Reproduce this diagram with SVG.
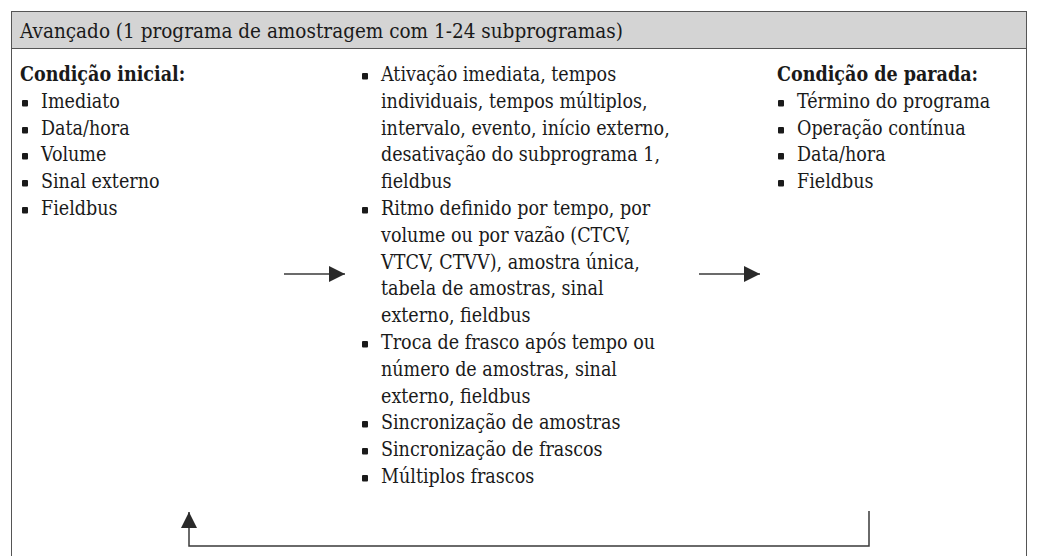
<svg xmlns="http://www.w3.org/2000/svg" width="1038" height="556" viewBox="0 0 1038 556">
<style>
text{font-family:"DejaVu Serif Condensed","DejaVu Serif","Liberation Serif",serif;font-stretch:condensed;font-size:19.5px;fill:#1a1a1a}
.h{font-size:20.5px}
.b{font-weight:bold}
.bl{fill:#1a1a1a}
.ln{stroke:#3a3a3a;stroke-width:1.5;fill:none}
</style>
<defs>
<marker id="ah" viewBox="0 0 16 16" refX="16" refY="8" markerWidth="16" markerHeight="16" markerUnits="userSpaceOnUse" orient="auto"><path d="M0,0 L16,8 L0,16 Z" fill="#2a2a2a"/></marker>
<rect id="sq" width="6" height="6.5" rx="1"/>
</defs>
<g id="frame">
<rect x="11.5" y="11.5" width="1015" height="37" fill="#d4d4d4" stroke="#555" stroke-width="1"/>
<path d="M11.5,48.5 V556 M1026.5,48.5 V556" stroke="#555" stroke-width="1" fill="none"/>
<text class="h" x="20" y="38">Avançado (1 programa de amostragem com 1-24 subprogramas)</text>
</g>
<g id="start">
<text class="b" x="20" y="81">Condição inicial:</text>
<use href="#sq" x="22" y="100" class="bl"/><text x="41" y="108">Imediato</text>
<use href="#sq" x="22" y="127" class="bl"/><text x="41" y="135">Data/hora</text>
<use href="#sq" x="22" y="153" class="bl"/><text x="41" y="161">Volume</text>
<use href="#sq" x="22" y="180" class="bl"/><text x="41" y="188">Sinal externo</text>
<use href="#sq" x="22" y="207" class="bl"/><text x="41" y="215">Fieldbus</text>
</g>
<g id="subprograms">
<use href="#sq" x="362" y="73" class="bl"/>
<text x="381" y="81">Ativação imediata, tempos</text>
<text x="381" y="108">individuais, tempos múltiplos,</text>
<text x="381" y="135">intervalo, evento, início externo,</text>
<text x="381" y="161">desativação do subprograma 1,</text>
<text x="381" y="188">fieldbus</text>
<use href="#sq" x="362" y="207" class="bl"/>
<text x="381" y="215">Ritmo definido por tempo, por</text>
<text x="381" y="242">volume ou por vazão (CTCV,</text>
<text x="381" y="269">VTCV, CTVV), amostra única,</text>
<text x="381" y="295">tabela de amostras, sinal</text>
<text x="381" y="322">externo, fieldbus</text>
<use href="#sq" x="362" y="341" class="bl"/>
<text x="381" y="349">Troca de frasco após tempo ou</text>
<text x="381" y="376">número de amostras, sinal</text>
<text x="381" y="403">externo, fieldbus</text>
<use href="#sq" x="362" y="421" class="bl"/>
<text x="381" y="429">Sincronização de amostras</text>
<use href="#sq" x="362" y="448" class="bl"/>
<text x="381" y="456">Sincronização de frascos</text>
<use href="#sq" x="362" y="475" class="bl"/>
<text x="381" y="483">Múltiplos frascos</text>
</g>
<g id="stop">
<text class="b" x="777" y="81">Condição de parada:</text>
<use href="#sq" x="778" y="100" class="bl"/><text x="797" y="108">Término do programa</text>
<use href="#sq" x="778" y="127" class="bl"/><text x="797" y="135">Operação contínua</text>
<use href="#sq" x="778" y="153" class="bl"/><text x="797" y="161">Data/hora</text>
<use href="#sq" x="778" y="180" class="bl"/><text x="797" y="188">Fieldbus</text>
</g>
<g id="connectors">
<path class="ln" d="M284,274 H345" marker-end="url(#ah)"/>
<path class="ln" d="M699,274 H760" marker-end="url(#ah)"/>
<path class="ln" d="M869,511 V546 H189 V512" marker-end="url(#ah)"/>
</g>
</svg>
